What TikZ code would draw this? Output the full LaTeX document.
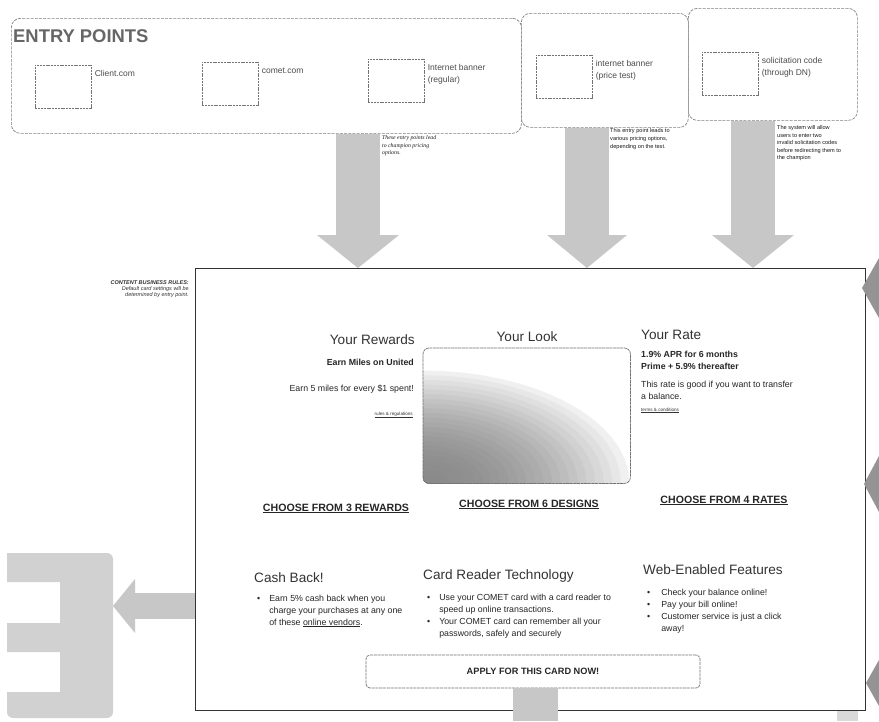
\documentclass[tikz,border=0pt]{standalone}
\usepackage{fontspec}
\setmainfont{Liberation Sans}
\newfontfamily\notefont{Liberation Serif}
\usetikzlibrary{positioning}

\newcommand{\fsz}[2]{\fontsize{#1}{#2}\selectfont}
\newcommand{\uline}[1]{\underline{#1}}
\newcommand{\llines}[1]{\begin{tabular}{@{}l@{}}#1\end{tabular}}
\newcommand{\rlines}[1]{\begin{tabular}{@{}r@{}}#1\end{tabular}}
\newcommand{\blist}[2]{\begin{tabular}{@{}l@{\hspace{#1}}l@{}}#2\end{tabular}}

\begin{document}
\begin{tikzpicture}[x=1pt,y=-1pt,node distance=3pt]
    \tikzstyle{panel} = [draw=black!50, dash pattern=on 3pt off 1.2pt, line width=0.7pt, rounded corners=9pt, anchor=north west, inner sep=0pt];
    \tikzstyle{slot} = [draw=black!55, dash pattern=on 2pt off 0.8pt, line width=0.6pt, minimum width=56pt, minimum height=43pt, anchor=north west, inner sep=0pt];
    \tikzstyle{slotlabel} = [font=\fsz{8.5}{12}, black!70, inner sep=0pt];
    \tikzstyle{note} = [font=\fsz{5.6}{7.8}, black!90, anchor=north west, inner sep=0pt];
    \tikzstyle{heading} = [font=\fsz{13.6}{16}, black!80, inner sep=0pt];
    \tikzstyle{body} = [font=\fsz{8.8}{12}, black!85, inner sep=0pt];
    \tikzstyle{strong} = [body, font=\fsz{8.8}{12}\bfseries];
    \tikzstyle{fine} = [font=\fsz{4.6}{6}, black!80, inner sep=0pt];
    \tikzstyle{choose} = [font=\fsz{10.6}{13}\bfseries, black!85, inner sep=0pt];
    \tikzstyle{flowshaft} = [line width=44pt, black!22];
    \tikzstyle{flowhead} = [fill=black!22];
    \tikzstyle{edgemark} = [fill=black!42];

    \fill[white] (0,0) rectangle (879,721);
    \useasboundingbox (0,0) rectangle (879,721);

    % entry points
    \node[panel, minimum width=510pt, minimum height=115pt] (panelA) at (11,18) {};
    \node[panel, minimum width=167pt, minimum height=114pt] (panelB) at (521,13) {};
    \node[panel, minimum width=169pt, minimum height=112pt] (panelC) at (688,8) {};
    \node[font=\fsz{18.4}{20}\bfseries, black!60, anchor=base west, inner sep=0pt] (title) at (13,42) {ENTRY POINTS};

    \node[slot] (client) at (35,65) {};
    \node[slot] (comet) at (202,62) {};
    \node[slot] (banner) at (368,59) {};
    \node[slot] (pricetest) at (536,55) {};
    \node[slot] (solicit) at (702,52) {};
    \node[slotlabel, below right=3pt and 3pt of client.north east] {\llines{Client.com}};
    \node[slotlabel, below right=3pt and 3pt of comet.north east] {\llines{comet.com}};
    \node[slotlabel, below right=3pt and 3pt of banner.north east] {\llines{Internet banner\\(regular)}};
    \node[slotlabel, below right=3pt and 3pt of pricetest.north east] {\llines{internet banner\\(price test)}};
    \node[slotlabel, below right=3pt and 3pt of solicit.north east] {\llines{solicitation code\\(through DN)}};

    \node[note, font=\fsz{5.8}{7.6}\notefont\itshape] (note1) at (382,134) {\llines{These entry points lead\\to champion pricing\\options.}};
    \node[note, font=\fsz{5.6}{8}] (note2) at (610,127) {\llines{This entry point leads to\\various pricing options,\\depending on the test.}};
    \node[note, font=\fsz{5.6}{7.5}] (note3) at (777,124.5) {\llines{The system will allow\\users to enter two\\invalid solicitation codes\\before redirecting them to\\the champion}};

    \node[font=\fsz{5.5}{6.2}\itshape, black!80, anchor=north east, inner sep=0pt] (rules) at (189,279.7) {\rlines{\textbf{CONTENT BUSINESS RULES:}\\Default card settings will be\\determined by entry point.}};

    % card page
    \node[draw=black!80, line width=1.3pt, minimum width=670pt, minimum height=442pt, anchor=north west, inner sep=0pt] (main) at (195,268) {};

    \node[heading, anchor=base east] (rewardsT) at (415,344) {Your Rewards};
    \node[heading, anchor=base] (lookT) at (527,341) {Your Look};
    \node[heading, anchor=base west] (rateT) at (641,339) {Your Rate};

    \node[strong, anchor=base east] (miles) at (414,365) {Earn Miles on United};
    \node[body, anchor=base east] (milesrate) at (414,391) {Earn 5 miles for every \$1 spent!};
    \node[fine, anchor=base east] at (413,415) {\uline{rules \& regulations}};

    \node[anchor=north west, minimum width=207pt, minimum height=135pt, inner sep=0pt] (card) at (423,348) {};
    \begin{scope}
        \clip[rounded corners=6pt] (card.south west) rectangle (card.north east);
        \foreach \i in {24,23,...,1} {
            \pgfmathsetmacro\g{6+40*(1-(\i/24)^2)}
            \fill[black!\g] (card.south west) ellipse ({8.6*\i pt} and {4.7*\i pt});
        }
    \end{scope}
    \draw[black!55, line width=0.7pt, dash pattern=on 3pt off 0.6pt, rounded corners=6pt] (card.south west) rectangle (card.north east);

    \node[strong, anchor=north west] (apr) at (641,348.6) {\llines{1.9\% APR for 6 months\\Prime + 5.9\% thereafter}};
    \node[body, anchor=north west] (transfer) at (641,378.6) {\llines{This rate is good if you want to transfer\\a balance.}};
    \node[fine, anchor=base west] at (641,411) {\uline{terms \& conditions}};

    \node[choose, anchor=base] (pickrewards) at (336,511) {\uline{CHOOSE FROM 3 REWARDS}};
    \node[choose, anchor=base] (pickdesigns) at (529,507) {\uline{CHOOSE FROM 6 DESIGNS}};
    \node[choose, anchor=base] (pickrates) at (724,503) {\uline{CHOOSE FROM 4 RATES}};

    \node[heading, anchor=base west] (cashT) at (254,582) {Cash Back!};
    \node[heading, anchor=base west] (readerT) at (423,579) {Card Reader Technology};
    \node[heading, anchor=base west] (webT) at (643,574) {Web-Enabled Features};

    \node[body, anchor=north west] (cashL) at (257,592.6) {\blist{9pt}{\textbullet & Earn 5\% cash back when you\\ & charge your purchases at any one\\ & of these \uline{online vendors}.}};
    \node[body, anchor=north west] (readerL) at (427,591.6) {\blist{9pt}{\textbullet & Use your COMET card with a card reader to\\ & speed up online transactions.\\ \textbullet & Your COMET card can remember all your\\ & passwords, safely and securely}};
    \node[body, anchor=north west] (webL) at (647,586.6) {\blist{11pt}{\textbullet & Check your balance online!\\ \textbullet & Pay your bill online!\\ \textbullet & Customer service is just a click\\ & away!}};

    \node[draw=black!55, dash pattern=on 3pt off 0.8pt, line width=0.7pt, rounded corners=4pt, minimum width=334pt, minimum height=33pt, font=\fsz{9.2}{11}\bfseries, text=black!85] (apply) at (533,671.5) {APPLY FOR THIS CARD NOW!};

    % flows
    \coordinate (drop1) at (358,0);
    \coordinate (drop2) at (587,0);
    \coordinate (drop3) at (753,0);
    \draw[flowshaft, shorten >=33pt] (panelA.south -| drop1) -- (main.north -| drop1);
    \fill[flowhead] (main.north -| drop1) -- ++(-41,-33) -- ++(82,0) -- cycle;
    \draw[flowshaft, shorten >=33pt] (panelB.south -| drop2) -- (main.north -| drop2);
    \fill[flowhead] (main.north -| drop2) -- ++(-40,-33) -- ++(80,0) -- cycle;
    \draw[flowshaft, shorten >=33pt] (panelC.south -| drop3) -- (main.north -| drop3);
    \fill[flowhead] (main.north -| drop3) -- ++(-41,-33) -- ++(82,0) -- cycle;

    \coordinate (cashout) at (0,606);
    \coordinate (etab) at (113,606);
    \draw[flowshaft, line width=26pt, shorten >=21pt] (main.west |- cashout) -- (etab);
    \fill[flowhead] (etab) -- ++(22,-27) -- ++(0,54) -- cycle;

    \coordinate (exit) at (535,721);
    \draw[flowshaft, line width=45pt] (apply.south -| exit) -- (exit);

    % cut-off shapes at the edges
    \fill[black!18] (7,553) [rounded corners=6pt] -- (113,553) -- (113,718) -- (7,718) [sharp corners] -- (7,692) -- (60,692) -- (60,652) -- (7,652) -- (7,623) -- (60,623) -- (60,582) -- (7,582) -- cycle;
    \fill[edgemark] (879,258) -- (862,288) -- (879,318) -- cycle;
    \fill[edgemark] (879,456) -- (864,484) -- (879,512) -- cycle;
    \fill[edgemark] (879,660) -- (866,683) -- (879,706) -- cycle;
    \fill[black!15] (837,711) rectangle (858,721);
\end{tikzpicture}
\end{document}
